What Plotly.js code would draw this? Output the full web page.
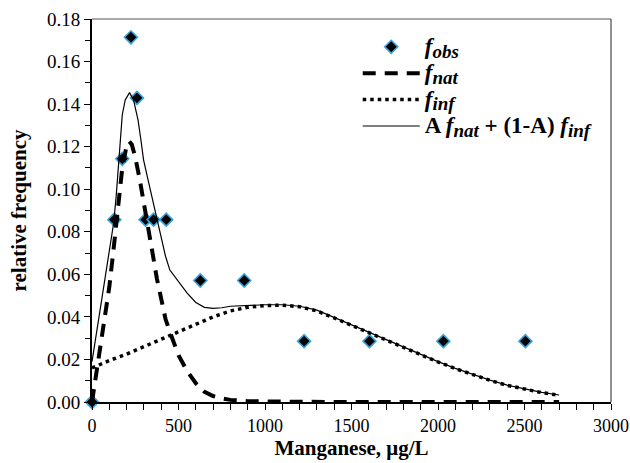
<!DOCTYPE html>
<html>
<head>
<meta charset="utf-8">
<script src="https://cdn.plot.ly/plotly-3.0.1.min.js"></script>
<style>html,body{margin:0;padding:0;background:#fff;}#chart{width:630px;height:463px;}</style>
</head>
<body>
<div id="chart"></div>
<script>
// Observed relative frequencies
var obsX = [0, 129, 175, 225, 260, 310, 356, 429, 626, 880, 1226, 1604, 2031, 2505];
var obsY = [0, 0.0857, 0.1143, 0.1714, 0.1429, 0.0857, 0.0857, 0.0857, 0.0571, 0.0571, 0.0286, 0.0286, 0.0286, 0.0286];

// Natural distribution f_nat
var natX = [0, 25, 50, 75, 100, 125, 150, 175, 200, 215, 230, 250, 275, 300, 325, 350, 375, 400, 425, 450, 475, 500, 550, 600, 650, 700, 750, 800, 900, 1000, 1200, 1500, 2000, 2700];
var natY = [0, 0.013, 0.026, 0.038, 0.054, 0.072, 0.093, 0.110, 0.1205, 0.1225, 0.121, 0.115, 0.105, 0.094, 0.082, 0.070, 0.058, 0.048, 0.039, 0.033, 0.027, 0.022, 0.0145, 0.0088, 0.0048, 0.0028, 0.0017, 0.001, 0.0004, 0.0002, 0.0001, 0, 0, 0];

// Influenced distribution f_inf
var infX = [0, 100, 200, 300, 400, 500, 600, 700, 800, 900, 1000, 1100, 1200, 1300, 1400, 1500, 1600, 1700, 1800, 1900, 2000, 2100, 2200, 2300, 2400, 2500, 2600, 2700];
var infY = [0.016, 0.0195, 0.0225, 0.026, 0.0295, 0.033, 0.0365, 0.040, 0.0428, 0.0445, 0.0453, 0.0455, 0.0448, 0.0428, 0.0395, 0.036, 0.0328, 0.0293, 0.0258, 0.0222, 0.0188, 0.0157, 0.0128, 0.0102, 0.0078, 0.006, 0.0044, 0.0032];

// Mixture A f_nat + (1-A) f_inf
var mixX = [0, 50, 100, 125, 140, 150, 160, 175, 192, 217, 240, 266, 283, 298, 325, 350, 375, 400, 425, 450, 500, 550, 600, 650, 700, 750, 800, 900, 1000, 1100, 1200, 1300, 1400, 1500, 1600, 1700, 1800, 1900, 2000, 2100, 2200, 2300, 2400, 2500, 2600, 2700];
var mixY = [0.019, 0.045, 0.071, 0.084, 0.097, 0.108, 0.122, 0.135, 0.142, 0.1454, 0.142, 0.1326, 0.123, 0.1138, 0.104, 0.095, 0.0857, 0.076, 0.0685, 0.062, 0.0565, 0.0512, 0.0468, 0.0445, 0.044, 0.0443, 0.045, 0.0455, 0.0457, 0.0457, 0.045, 0.0432, 0.0397, 0.0362, 0.033, 0.0295, 0.026, 0.0224, 0.019, 0.0158, 0.0129, 0.0103, 0.0079, 0.0061, 0.0045, 0.0033];

var xTickVals = [0, 500, 1000, 1500, 2000, 2500, 3000];
var yTickVals = [0, 0.02, 0.04, 0.06, 0.08, 0.10, 0.12, 0.14, 0.16, 0.18];

var serif = 'Liberation Serif';

function big(t) { return '<span style="font-size:23px">' + t + '</span>'; }
function sub(t) { return '<sub><span style="font-size:19px"><i>' + t + '</i></span></sub>'; }

var traces = [
  {x: obsX, y: obsY, type: 'scatter', mode: 'markers', cliponaxis: false,
   name: big('<i>f</i>') + sub('obs'),
   marker: {symbol: 'diamond', size: 10, color: '#000', line: {color: '#35a4dc', width: 1.6}}},
  {x: natX, y: natY, type: 'scatter', mode: 'lines',
   name: big('<i>f</i>') + sub('nat'),
   line: {color: '#000', width: 4, dash: '13px,9px'}},
  {x: infX, y: infY, type: 'scatter', mode: 'lines',
   name: big('<i>f</i>') + sub('inf'),
   line: {color: '#000', width: 3.5, dash: '3.5px,4px'}},
  {x: mixX, y: mixY, type: 'scatter', mode: 'lines',
   name: big('A <i>f</i>') + sub('nat') + big(' + (1-A) <i>f</i>') + sub('inf'),
   line: {color: '#000', width: 1.2}}
];

var layout = {
  width: 630, height: 463,
  margin: {l: 92, r: 19, t: 19, b: 61},
  paper_bgcolor: '#fff', plot_bgcolor: '#fff',
  font: {family: serif, color: '#000', size: 18},
  showlegend: true,
  legend: {x: 0.512, y: 0.975, xanchor: 'left', yanchor: 'top', bgcolor: 'rgba(0,0,0,0)',
           itemwidth: 57, font: {family: serif, size: 18, weight: 'bold', color: '#000'}},
  xaxis: {
    range: [0, 3000], tickvals: xTickVals, ticks: 'outside', ticklen: 6, tickwidth: 1, tickcolor: '#000',
    showline: true, linecolor: '#000', linewidth: 2, showgrid: false, zeroline: false,
    tickfont: {family: serif, size: 18, color: '#000'},
    minor: {dtick: 100, ticks: 'outside', ticklen: 6, tickwidth: 1, tickcolor: '#000', showgrid: false},
    title: {text: '<b>Manganese, μg/L</b>', font: {family: serif, size: 21, color: '#000'}, standoff: 6}
  },
  yaxis: {
    range: [0, 0.18], tickvals: yTickVals, tickformat: '.2f', ticks: 'outside', ticklen: 6, tickwidth: 1, tickcolor: '#000',
    showline: true, linecolor: '#000', linewidth: 2, showgrid: false, zeroline: false,
    tickfont: {family: serif, size: 19, color: '#000'},
    minor: {dtick: 0.01, ticks: 'outside', ticklen: 5, tickwidth: 1, tickcolor: '#000', showgrid: false},
    title: {text: '<b>relative frequency</b>', font: {family: serif, size: 21, color: '#000'}, standoff: 15}
  },
  shapes: [
    {type: 'line', xref: 'paper', yref: 'paper', x0: 0, x1: 1, y0: 1, y1: 1, line: {color: '#555', width: 1}},
    {type: 'line', xref: 'paper', yref: 'paper', x0: 1, x1: 1, y0: 0, y1: 1, line: {color: '#222', width: 1}}
  ]
};

Plotly.newPlot('chart', traces, layout, {displayModeBar: false, staticPlot: true});
</script>
</body>
</html>
